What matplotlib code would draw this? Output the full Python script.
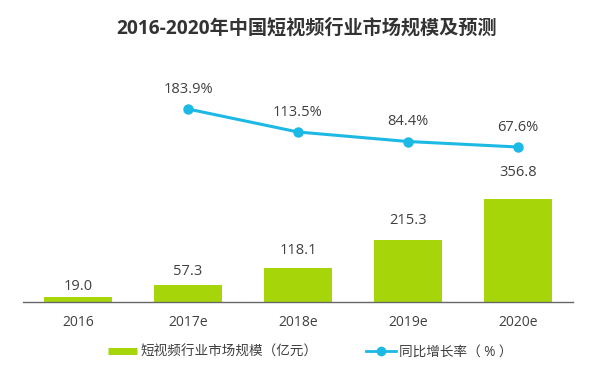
#!/usr/bin/env python3
"""short video market size 2016-2020"""

import matplotlib
matplotlib.use("Agg")
import matplotlib.pyplot as plt
from matplotlib.lines import Line2D

plt.rcParams["font.family"] = ["Open Sans", "Noto Sans CJK SC", "DejaVu Sans"]

years = ["2016", "2017e", "2018e", "2019e", "2020e"]
market_size = [19.0, 57.3, 118.1, 215.3, 356.8]
growth_years = ["2017e", "2018e", "2019e", "2020e"]
growth_rate = [183.9, 113.5, 84.4, 67.6]

title = "2016-2020年中国短视频行业市场规模及预测"
bar_name = "短视频行业市场规模（亿元）"
line_name = "同比增长率（ % ）"

BAR_COLOR = "#A6D60A"
LINE_COLOR = "#1CB9E4"
TEXT_COLOR = "#404040"

# label offsets above the bar tops (pixels), the original placed them by hand
bar_label_offsets = [10, 14, 17, 19, 26]


def plot(fig):
    W, H = 598, 365
    ax = fig.add_axes([23 / W, (H - 302) / H, 550 / W, 242 / H])
    x = list(range(len(years)))
    ax.bar(x, market_size, width=68 / 110, color=BAR_COLOR, zorder=2)
    ax.set_xlim(-0.5, 4.5)
    ax.set_ylim(0, 838)
    for xi, v, off in zip(x, market_size, bar_label_offsets):
        ax.annotate(f"{v:.1f}", (xi, v), xytext=(0, off), textcoords="offset pixels",
                    ha="center", va="center", fontsize=10.5, color=TEXT_COLOR)

    ax.set_xticks(x)
    ax.set_xticklabels(years)
    ax.tick_params(axis="x", length=0, pad=9.5, labelsize=10, labelcolor=TEXT_COLOR)
    ax.set_yticks([])
    for s in ["top", "left", "right"]:
        ax.spines[s].set_visible(False)
    ax.spines["bottom"].set_color("#666666")
    ax.spines["bottom"].set_linewidth(1.0)

    ax2 = ax.twinx()
    lx = [years.index(y) for y in growth_years]
    ax2.plot(lx, growth_rate, color=LINE_COLOR, lw=2.2, marker="o", ms=6.5, zorder=3)
    ax2.set_ylim(-406.8, 333.9)
    ax2.set_yticks([])
    for s in ["top", "left", "right", "bottom"]:
        ax2.spines[s].set_visible(False)
    for xi, v in zip(lx, growth_rate):
        ax2.annotate(f"{v:.1f}%", (xi, v), xytext=(0, 20), textcoords="offset pixels",
                     ha="center", va="center", fontsize=10.5, color=TEXT_COLOR)

    fig.text(307 / W, 1 - 29 / H, title, ha="center", va="center",
             fontsize=13.8, fontweight="bold", color="#333333")

    handles = [
        Line2D([], [], color=BAR_COLOR, lw=5, solid_capstyle="butt"),
        Line2D([], [], color=LINE_COLOR, lw=2, marker="o", ms=6),
    ]
    fig.legend(handles, [bar_name, line_name], loc="center",
               bbox_to_anchor=(310 / W, 1 - 352 / H), ncol=2, frameon=False,
               fontsize=9.8, labelcolor=TEXT_COLOR, handlelength=2.2,
               handletextpad=0.2, columnspacing=3.6)


def main():
    fig = plt.figure(figsize=(5.98, 3.65), dpi=100)
    plot(fig)
    fig.savefig("out.png", dpi=100, facecolor="white")


if __name__ == "__main__":
    main()
